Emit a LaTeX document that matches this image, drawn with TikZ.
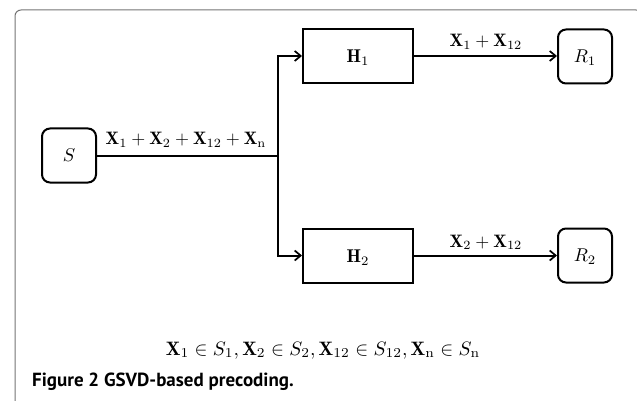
\documentclass[tikz,border=0pt]{standalone}
\usepackage{fontspec}
\newfontfamily\capfont{PT Sans}
\usetikzlibrary{arrows.meta}
\begin{document}
\begin{tikzpicture}[x=1pt,y=-1pt,
  conn/.style={line width=2pt, line join=miter},
  arr/.style={conn, -{Straight Barb[length=6pt,width=10pt,line width=1.7pt]}},
  rbox/.style={draw, line width=2pt, rounded corners=8pt, minimum width=54pt, minimum height=54pt, inner sep=0pt},
  hbox/.style={draw, line width=2pt, minimum width=110pt, minimum height=54pt, inner sep=0pt},
  lbl/.style={scale=1.8, anchor=base, inner sep=0pt},
  intext/.style={scale=1.85}
]
\useasboundingbox (0,0) rectangle (637,401);
\draw[black!55, line width=1pt, rounded corners=6pt] (15,402) -- (15,10) -- (642,10) -- (642,402);

\node[rbox] (S) at (69,155.5) {};
\node[intext] at (S) {$S$};
\node[hbox] (H1) at (358,56) {};
\node[intext] at ([yshift=-2pt]H1.center) {$\mathbf{H}_1$};
\node[rbox] (R1) at (585,56.5) {};
\node[intext] at ([yshift=-1pt]R1.center) {$R_1$};
\node[hbox] (H2) at (358,255.5) {};
\node[intext] at ([yshift=-2pt]H2.center) {$\mathbf{H}_2$};
\node[rbox] (R2) at (585,255.5) {};
\node[intext] at ([yshift=-1pt]R2.center) {$R_2$};

\coordinate (J) at (278,155.5);
\draw[conn] (S.east) -- (J);
\draw[arr] (J) |- (H1.west);
\draw[arr] (J) |- (H2.west);
\draw[arr] (H1.east) -- (R1.west |- H1.east);
\draw[arr] (H2.east) -- (R2.west |- H2.east);

\node[lbl] (l0) at (186,145) {$\mathbf{X}_1+\mathbf{X}_2+\mathbf{X}_{12}+\mathbf{X}_\mathrm{n}$};
\node[lbl] (l1) at (486,47) {$\mathbf{X}_1+\mathbf{X}_{12}$};
\node[lbl] (l2) at (486,247) {$\mathbf{X}_2+\mathbf{X}_{12}$};

\node[lbl, scale=1.08] (f) at (323,355) {$\mathbf{X}_1\in S_1,\mathbf{X}_2\in S_2,\mathbf{X}_{12}\in S_{12},\mathbf{X}_\mathrm{n}\in S_\mathrm{n}$};

\node[anchor=base west, inner sep=0pt, font=\capfont\bfseries\fontsize{19}{22}\selectfont] (cap) at (32,386) {Figure 2 GSVD-based precoding.};
\end{tikzpicture}
\end{document}
